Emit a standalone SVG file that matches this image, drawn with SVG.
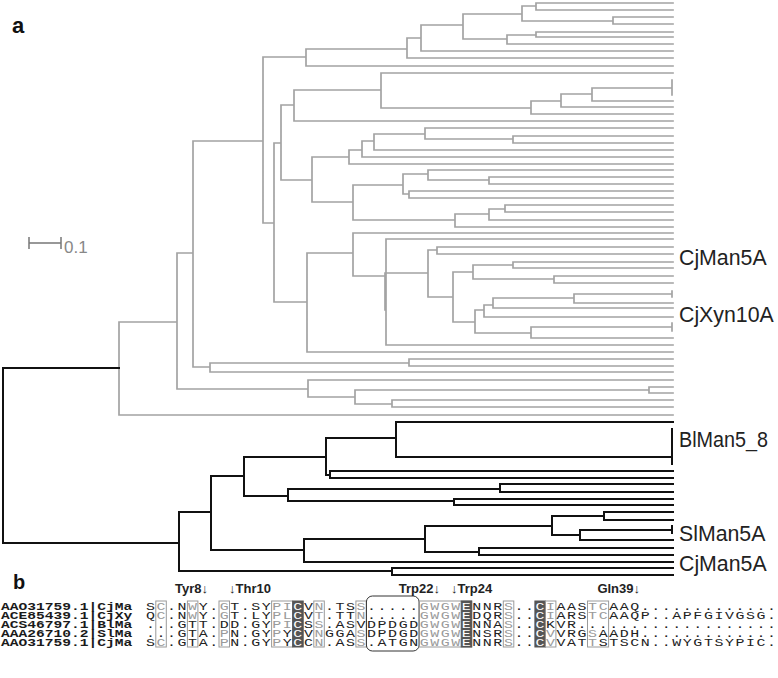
<svg xmlns="http://www.w3.org/2000/svg" width="778" height="678" viewBox="0 0 778 678">
<style>
.gt{fill:none;stroke:#a3a3a3;stroke-width:1.7;stroke-linecap:square}
.bt{fill:none;stroke:#111;stroke-width:2;stroke-linecap:square}
.lab{font-family:"Liberation Sans",Arial,sans-serif;font-size:21.3px;fill:#222}
.pl{font-family:"Liberation Sans",Arial,sans-serif;font-weight:bold;fill:#111}
.hd{font-family:"Liberation Sans",Arial,sans-serif;font-weight:bold;font-size:13px;fill:#222}
.nm{font-family:"Liberation Mono","Courier New",monospace;font-weight:bold;font-size:11.5px;fill:#1a1a1a}
.seq{font-family:"Liberation Mono","Courier New",monospace;font-size:11.5px;letter-spacing:1.2px;fill:#222}
.g{fill:#9a9a9a}
.w{fill:#fff}
.bx{fill:none;stroke:#9a9a9a;stroke-width:1}
.dk{fill:#555;stroke:#555;stroke-width:1}
</style>
<g id="panel-labels">
<text class="pl" x="12" y="33" font-size="22">a</text>
<text class="pl" x="13" y="589" font-size="20">b</text>
</g>
<g id="scalebar">
<path d="M29 243H61M29 237V249M61 237V249" fill="none" stroke="#777" stroke-width="1.5"/>
<text x="64" y="253" font-family="Liberation Sans,Arial,sans-serif" font-size="17" fill="#888">0.1</text>
</g>
<g id="connectors">
<path class="gt" d="M263 57V223M263 57H306M306 49V66M306 49H407M306 66H673M407 38V58M407 38H421M407 58H673M421 25V51M421 25H463M421 51H673M463 14V39M463 14H522M463 39H507M522 6V21M522 6H536M522 21H613M536 3V10M536 3H673M536 10H673M613 17V24M613 17H673M613 24H673M507 35V44M507 35H536M507 44H673M536 32V37M536 32H673M536 37H673
M263 223H274M274 143V302M274 143H281M281 105V180M281 105H294M294 90V121M294 90H381M294 121H673M381 73V108M381 73H673M381 108H531M531 101V114M531 101H561M531 114H673M561 94V107M561 94H592M561 107H673M592 88V101M592 88H672M672 80V95M592 101H673
M281 180H312M312 157V202M312 157H349M349 150V164M349 150H362M349 164H673M362 141V157M362 141H374M362 157H673M374 134V150M374 134H425M374 150H673M425 128V139M425 128H673M425 139H513M513 136V143M513 136H673M513 143H673
M312 202H353M353 185V220M353 185H403M403 174V194M403 174H428M428 170V180M428 170H673M428 180H489M489 177V184M489 177H673M489 184H673M403 194H409M409 191V198M409 191H673M409 198H673M353 220H455M455 214V227M455 214H489M489 209V220M489 209H505M505 205V212M505 205H673M505 212H673M489 220H673M455 227H673
M274 302H307M307 253V352M307 253H353M353 233V276M353 233H673M353 276H386M386 239V345M385 273V310M386 239H673M386 345H673M386 273H428M428 250V297M428 250H437M437 247V254M437 247H673M437 254H673M428 297H453M453 272V322M453 272H473M473 265V279M473 265H513M513 262V268M513 262H673M513 268H673M473 279H554M554 276V283M554 276H673M554 283H673M453 322H475M475 310V333M475 310H484M484 305V317M484 305H493M493 298V308M493 298H574M574 294V303M574 294H672M672 291V297M574 303H673M493 308H673M484 317H673M475 333H531M531 327V338M531 327H672M672 323V331M531 338H673M307 352H673
M193 141H263M193 141V367M193 367H210M210 363V372M210 363H409M409 359V366M409 359H673M409 366H673M210 372H673M177 253H193M177 253V389M177 389H308M308 380V397M308 380H673M308 397H355M355 390V404M355 390H649M649 387V393M649 387H673M649 393H673M355 404H392M392 400V407M392 400H673M392 407H673M119 322H177M119 322V415M119 415H673"/>
<path class="bt" d="M3 368H119M3 368V543M3 543H179M179 512V571M179 512H211M211 476V550M211 476H244M244 457V496M244 457H326M326 438V475M326 438H396M396 422V457M396 422H673M396 457H672M672 429V464M326 475H330M330 471V478M330 471H673M330 478H673M244 496H288M288 489V501M288 489H500M500 484V492M500 484H673M500 492H673M288 501H454M454 499V505M454 499H673M454 505H673M211 550H304M304 539V562M304 539H425M425 526V552M425 526H552M552 516V535M552 516H604M604 512V520M604 512H673M604 520H673M552 535H580M580 530V540M580 530H672M672 526V533M580 540H673M425 552H479M479 548V555M479 548H673M479 555H673M304 562H673M179 571H392M392 568V575M392 568H673M392 575H673"/>
</g>
<g id="leaf-CjMan5A-1"><text class="lab" x="679" y="265">CjMan5A</text></g>
<g id="leaf-CjXyn10A"><text class="lab" x="679" y="322">CjXyn10A</text></g>
<g id="leaf-BlMan5_8"><text class="lab" x="679" y="447" textLength="89" lengthAdjust="spacingAndGlyphs">BlMan5_8</text></g>
<g id="leaf-SlMan5A"><text class="lab" x="679" y="541">SlMan5A</text></g>
<g id="leaf-CjMan5A-2"><text class="lab" x="679" y="571">CjMan5A</text></g>
<g id="alignment-boxes">
<rect class="bx" x="155.8" y="601" width="10.5" height="46"/>
<rect class="bx" x="187.4" y="601" width="10.5" height="46"/>
<rect class="bx" x="219" y="601" width="10.5" height="46"/>
<rect class="bx" x="271.6" y="601" width="21.1" height="46"/>
<rect class="dk" x="292.7" y="601" width="10.5" height="46"/>
<rect class="bx" x="313.8" y="601" width="10.5" height="46"/>
<rect class="bx" x="355.9" y="601" width="10.5" height="46"/>
<rect x="366.4" y="596" width="52.7" height="55" rx="6" fill="none" stroke="#333" stroke-width="1"/>
<rect class="bx" x="419.1" y="601" width="52.6" height="46"/>
<rect class="dk" x="461.2" y="601" width="10.5" height="46"/>
<rect class="bx" x="503.3" y="601" width="10.5" height="46"/>
<rect class="dk" x="534.9" y="601" width="10.5" height="46"/>
<rect class="bx" x="545.4" y="601" width="10.5" height="46"/>
<rect class="bx" x="587.5" y="601" width="21.1" height="46"/>
</g>
<g id="alignment-headers">
<text class="hd" x="208" y="593" text-anchor="end">Tyr8↓</text>
<text class="hd" x="229" y="593">↓Thr10</text>
<text class="hd" x="440" y="593" text-anchor="end">Trp22↓</text>
<text class="hd" x="451" y="593">↓Trp24</text>
<text class="hd" x="640" y="593" text-anchor="end">Gln39↓</text>
</g>
<g id="alignment-names" transform="scale(1.27,1)">
<text class="nm" x="0.8" y="609.8">AAO31759.1|CjMa</text>
<text class="nm" x="0.8" y="618.8">ACE85439.1|CjXy</text>
<text class="nm" x="0.8" y="627.8">ACS46797.1|BlMa</text>
<text class="nm" x="0.8" y="636.8">AAA26710.2|SlMa</text>
<text class="nm" x="0.8" y="645.8">AAO31759.1|CjMa</text>
</g>
<g id="alignment-seqs" transform="scale(1.3,1)">
<text class="seq" x="112.32" y="609.8">S<tspan class="g">C</tspan>.N<tspan class="g">W</tspan>Y.<tspan class="g">G</tspan>T.SY<tspan class="g">PI</tspan><tspan class="w">C</tspan>V<tspan class="g">N</tspan>.TS<tspan class="g">S</tspan>.....<tspan class="g">GWGW</tspan><tspan class="w">E</tspan>NNR<tspan class="g">S</tspan>..<tspan class="w">C</tspan><tspan class="g">I</tspan>AAS<tspan class="g">TC</tspan>AAQ.............</text>
<text class="seq" x="112.32" y="618.8">Q<tspan class="g">C</tspan>.N<tspan class="g">W</tspan>Y.<tspan class="g">G</tspan>T.LY<tspan class="g">PL</tspan><tspan class="w">C</tspan>V<tspan class="g">T</tspan>.TT<tspan class="g">N</tspan>.....<tspan class="g">GWGW</tspan><tspan class="w">E</tspan>DQR<tspan class="g">S</tspan>..<tspan class="w">C</tspan><tspan class="g">I</tspan>ARS<tspan class="g">TC</tspan>AAQP..APFGIVGSG.</text>
<text class="seq" x="112.32" y="627.8">...GTT.DD.GY<tspan class="g">PI</tspan><tspan class="w">C</tspan>S<tspan class="g">S</tspan>.ASVDPDGD<tspan class="g">GWGW</tspan><tspan class="w">E</tspan>NNA<tspan class="g">S</tspan>..<tspan class="w">C</tspan>KVR...................</text>
<text class="seq" x="112.32" y="636.8">...GTA.<tspan class="g">P</tspan>N.GY<tspan class="g">P</tspan>Y<tspan class="w">C</tspan>V<tspan class="g">N</tspan>GGA<tspan class="g">S</tspan>DPDGD<tspan class="g">GWGW</tspan><tspan class="w">E</tspan>NSR<tspan class="g">S</tspan>..<tspan class="w">C</tspan><tspan class="g">V</tspan>VRG<tspan class="g">S</tspan>AADH.............</text>
<text class="seq" x="112.32" y="645.8">S<tspan class="g">C</tspan>.GTA.<tspan class="g">P</tspan>N.GY<tspan class="g">P</tspan>Y<tspan class="w">C</tspan>C<tspan class="g">N</tspan>.AS<tspan class="g">S</tspan>.ATGN<tspan class="g">GWGW</tspan><tspan class="w">E</tspan>NNR<tspan class="g">S</tspan>..<tspan class="w">C</tspan><tspan class="g">V</tspan>VAT<tspan class="g">T</tspan>STSCN..WYGTSYPIC.</text>
</g>
</svg>
